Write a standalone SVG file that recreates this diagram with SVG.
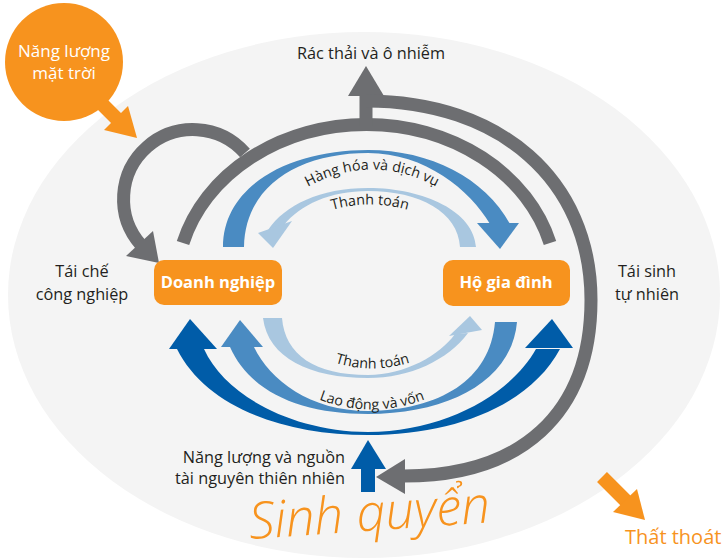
<svg xmlns="http://www.w3.org/2000/svg" width="724" height="559" viewBox="0 0 724 559">
<defs>
<style>
.t{font-family:"Open Sans","Noto Sans",sans-serif;fill:#231f20;font-size:16.3px}
.w{font-family:"Open Sans","Noto Sans",sans-serif;fill:#ffffff;font-weight:bold;font-size:16.5px}
.o{font-family:"Open Sans","Noto Sans",sans-serif;fill:#f7931e}
.arc{font-family:"Open Sans","Noto Sans",sans-serif;fill:#231f20;font-size:14.3px}
.g{fill:none;stroke:#6d6e71;stroke-width:13}
.gh{fill:#6d6e71}
.or{fill:#f7931e}
.ors{stroke:#f7931e;stroke-width:14;fill:none}
.bm{fill:#4a8bc2}
.bl{fill:#a9c7e0}
.bd{fill:#005ca8}
</style>
<path id="p1" d="M 288,199 Q 372,140 456,199"/>
<path id="p2" d="M 300,223 Q 370,186 440,223"/>
<path id="p3" d="M 298,345 Q 372,392 447,345"/>
<path id="p4" d="M 286,383 Q 372,436 458,383"/>
</defs>
<rect width="724" height="559" fill="#ffffff"/>
<ellipse id="sinh-quyen" cx="364" cy="295" rx="356" ry="263" fill="#f4f4f4"/>

<g id="connectors">
  <!-- sun arrow -->
  <line class="ors" x1="92" y1="94" x2="119" y2="121"/>
  <polygon class="or" points="104,130 128,106 137,138"/>
  <!-- loss arrow -->
  <line class="ors" x1="602" y1="477" x2="628" y2="503"/>
  <polygon class="or" points="613,512 637,489 645,520"/>
  <!-- grey: big inner arc -->
  <path class="g" d="M 183,243 A 190 160 0 0 1 550,243"/>
  <!-- recycling -->
  <path class="g" d="M 245,153 A 69 69 0 0 0 141,245"/>
  <polygon class="gh" points="126,256 153,231 159,263"/>
  <!-- waste stem -->
  <line class="g" x1="366" y1="126" x2="366" y2="94" stroke-width="12"/>
  <polygon class="gh" points="348,96 384,96 366,66"/>
  <!-- outer arc natural regeneration -->
  <path class="g" d="M 366,101 C 500,101 591,180 591,300 C 591,415 520,476 404,476"/>
  <polygon class="gh" points="405,459 405,494 376,477"/>
  <!-- top medium blue: goods and services -->
  <path class="bm" d="M 223,247 C 223,185 290,150 368,150 C 430,150 485,178 510,224 L 490,224 C 470,190 425,153 368,153 C 300,153 245,185 244,247 Z"/>
  <polygon class="bm" points="477,223 519,223 500,249"/>
  <!-- top light blue: payment -->
  <path class="bl" d="M 476,247 C 474,212 425,188 368,188 C 320,188 285,205 268,230 L 284,225 C 300,205 330,191 368,191 C 420,191 458,212 460,247 Z"/>
  <polygon class="bl" points="258,233 292,221 273,248"/>
  <!-- lower light blue: payment -->
  <path class="bl" d="M 263,318 C 268,358 310,378 368,378 C 410,378 448,360 468,333 L 455,334 C 440,355 405,375 368,375 C 315,375 285,355 282,318 Z"/>
  <polygon class="bl" points="449,336 482,330 470,316"/>
  <!-- lower medium blue: labour and capital -->
  <path class="bm" d="M 517,322 C 512,380 450,414 368,414 C 300,414 250,392 230,347 L 254,347 C 270,380 310,411 368,411 C 440,410 490,380 495,322 Z"/>
  <polygon class="bm" points="221,347 263,347 240,320"/>
  <!-- lower dark blue -->
  <path class="bd" d="M 177,349 C 205,405 280,435 368,435 C 455,435 530,405 560,349 L 536,349 C 510,395 445,431 368,432 C 290,431 225,395 204,349 Z"/>
  <polygon class="bd" points="169,349 217,349 190,319"/>
  <polygon class="bd" points="525,348 573,348 552,319"/>
  <!-- centre up arrow -->
  <rect class="bd" x="361" y="466" width="14" height="26"/>
  <polygon class="bd" points="351,469 386,469 368,440"/>
</g>

<g id="sun">
  <circle cx="64" cy="62" r="59" fill="#f7931e"/>
  <text x="64" y="57" text-anchor="middle" font-family="Open Sans, Noto Sans, sans-serif" font-size="17" fill="#ffffff">Năng lượng</text>
  <text x="64" y="79" text-anchor="middle" font-family="Open Sans, Noto Sans, sans-serif" font-size="17" fill="#ffffff">mặt trời</text>
</g>
<g id="doanh-nghiep">
  <rect x="154" y="260" width="128" height="45" rx="10" fill="#f7931e"/>
  <text class="w" x="218" y="288" text-anchor="middle">Doanh nghiệp</text>
</g>
<g id="ho-gia-dinh">
  <rect x="443" y="260" width="127" height="46" rx="10" fill="#f7931e"/>
  <text class="w" x="506" y="288" text-anchor="middle">Hộ gia đình</text>
</g>

<g id="labels">
  <text class="t" x="371" y="59" text-anchor="middle">Rác thải và ô nhiễm</text>
  <text class="t" x="82" y="277" text-anchor="middle">Tái chế</text>
  <text class="t" x="82" y="300" text-anchor="middle">công nghiệp</text>
  <text class="t" x="647" y="277" text-anchor="middle">Tái sinh</text>
  <text class="t" x="647" y="300" text-anchor="middle">tự nhiên</text>
  <text class="t" x="345" y="463" text-anchor="end">Năng lượng và nguồn</text>
  <text class="t" x="345" y="484" text-anchor="end">tài nguyên thiên nhiên</text>
  <text class="arc"><textPath href="#p1" startOffset="50%" text-anchor="middle">Hàng hóa và dịch vụ</textPath></text>
  <text class="arc"><textPath href="#p2" startOffset="50%" text-anchor="middle">Thanh toán</textPath></text>
  <text class="arc"><textPath href="#p3" startOffset="50%" text-anchor="middle">Thanh toán</textPath></text>
  <text class="arc"><textPath href="#p4" startOffset="50%" text-anchor="middle">Lao động và vốn</textPath></text>
  <text class="o" x="0" y="0" font-size="51" font-style="italic" font-weight="300" transform="translate(250,539) rotate(-4)">Sinh quyển</text>
  <text class="o" x="625" y="544" font-size="20">Thất thoát</text>
</g>
</svg>
